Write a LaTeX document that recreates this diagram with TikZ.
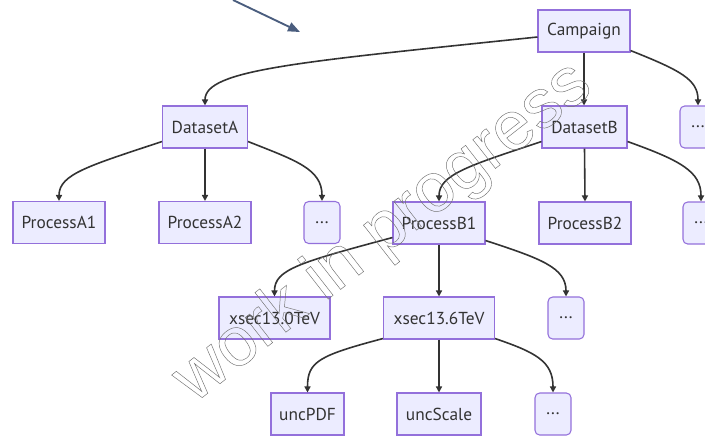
\documentclass[tikz,border=0pt]{standalone}
\usepackage{fontspec}
\setmainfont{PT Sans}
\newfontfamily\wmfont{Liberation Sans}
\usetikzlibrary{arrows.meta}
\definecolor{nodefill}{HTML}{ECECFF}
\definecolor{nodeline}{HTML}{9370DB}
\definecolor{edgecol}{HTML}{333333}
\definecolor{bluearrow}{HTML}{4A5D7E}
\begin{document}
\begin{tikzpicture}[x=0.75pt,y=-0.75pt,
 box/.style={draw=nodeline, fill=nodefill, line width=0.8pt, minimum height=31.5pt, inner sep=0pt, text=edgecol, font=\fontsize{13}{15}\selectfont},
 bw/.style={minimum width=#1*0.75pt},
 dotbox/.style={box, rounded corners=3.5pt, minimum width=27pt},
 edge/.style={draw=edgecol, line width=1.2pt, -{Triangle[length=4.5pt,width=4.5pt]}},
]
\useasboundingbox (0,0) rectangle (705,435);
% nodes
\node[box, bw=92] (camp) at (584,31) {Campaign};
\node[box, bw=85] (dsA) at (205,127) {DatasetA};
\node[box, bw=85] (dsB) at (584.5,127) {DatasetB};
\node[dotbox] (d1) at (698,127) {...};
\node[box, bw=92] (pA1) at (59,222.5) {ProcessA1};
\node[box, bw=92] (pA2) at (205,222.5) {ProcessA2};
\node[dotbox] (dA) at (322,222.5) {...};
\node[box, bw=92] (pB1) at (439,223) {ProcessB1};
\node[box, bw=92] (pB2) at (585,223) {ProcessB2};
\node[dotbox] (dB) at (701,223) {...};
\node[box, bw=111] (x130) at (274.5,318) {xsec13.0TeV};
\node[box, bw=111] (x136) at (439,318) {xsec13.6TeV};
\node[dotbox] (dX) at (566,318) {...};
\node[box, bw=73] (uPDF) at (307.5,414) {uncPDF};
\node[box, bw=84] (uS) at (439,414) {uncScale};
\node[dotbox] (dU) at (553,414) {...};
% edges
\draw[edge] ([yshift=-4.5pt]camp.west) .. controls +(-238,25) and +(0,-36) .. (dsA.north);
\draw[edge] (camp.south) -- (camp.south |- dsB.north);
\draw[edge] ([yshift=1.5pt]camp.south east) .. controls +(50,20) and +(0,-26) .. (d1.north);
\draw[edge] ([yshift=5.25pt]dsA.south west) .. controls +(-72,24) and +(0,-27) .. (pA1.north);
\draw[edge] (dsA.south) -- (pA2.north);
\draw[edge] ([yshift=5.25pt]dsA.south east) .. controls +(48,19) and +(0,-32) .. (dA.north);
\draw[edge] ([yshift=5.25pt]dsB.south west) .. controls +(-72,24) and +(0,-27) .. (pB1.north);
\draw[edge] (dsB.south) -- (pB2.north);
\draw[edge] ([yshift=5.25pt]dsB.south east) .. controls +(53,19) and +(0,-30) .. (dB.north);
\draw[edge] ([yshift=5.25pt]pB1.south west) .. controls +(-93,25) and +(0,-27) .. (x130.north);
\draw[edge] (pB1.south) -- (x136.north);
\draw[edge] ([yshift=3pt]pB1.south east) .. controls +(55,18) and +(0,-29) .. (dX.north);
\draw[edge] ([yshift=0.75pt]x136.south west) .. controls +(-64,17) and +(0,-31) .. (uPDF.north);
\draw[edge] (x136.south) -- (uS.north);
\draw[edge] ([yshift=0.75pt]x136.south east) .. controls +(41,14) and +(0,-31) .. (dU.north);
% blue arrow
\coordinate (bs) at (233,0);
\coordinate (be) at (300,32);
\draw[bluearrow, line width=1.4pt, -{Triangle[length=9pt,width=7pt]}] (bs) -- (be);
% watermark
\node[rotate=38, anchor=base west, inner sep=0pt, text=black!55, font=\wmfont\fontsize{52}{54}\selectfont] (wm) at (194,404) {\special{pdf:literal direct 1 Tr 0.35 w}work in progress};
\end{tikzpicture}
\end{document}
